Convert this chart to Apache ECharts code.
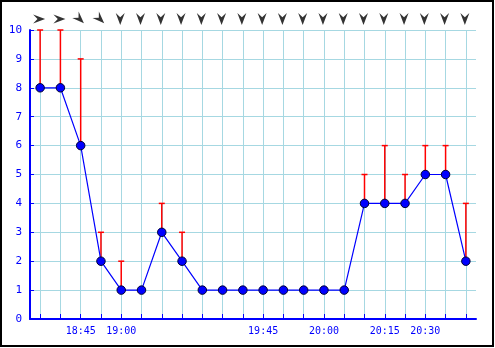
<!DOCTYPE html>
<html><head><meta charset="utf-8">
<script src="https://cdn.jsdelivr.net/npm/echarts@6/dist/echarts.min.js"></script>
<style>html,body{margin:0;padding:0;background:#fff}#c{width:495px;height:348px}</style>
</head><body><div id="c"></div>
<script>
const xLabels = ['', '', '18:45', '', '19:00', '', '', '', '', '', '', '19:45', '', '', '20:00', '', '', '20:15', '', '20:30', '', ''];
const speed = [8, 8, 6, 2, 1, 1, 3, 2, 1, 1, 1, 1, 1, 1, 1, 1, 4, 4, 4, 5, 5, 2];
const gust = [10, 10, 9, 3, 2, null, 4, 3, null, null, null, null, null, null, null, null, 5, 6, 5, 6, 6, 4];
// direction the arrow points to, compass degrees
const windDir = [90, 90, 135, 135, 180, 180, 180, 180, 180, 180, 180, 180, 180, 180, 180, 180, 180, 180, 180, 180, 180, 180];
const yTicks = [0, 10, 1];

const categories = speed.map((_, i) => String(i));
const BLUE = '#0000ff';
const GRIDC = '#a6d8e2';
const FONT = 'DejaVu Sans Mono';

const gustData = [];
gust.forEach((g, i) => { if (g != null) gustData.push([i, speed[i], g]); });

const chart = echarts.init(document.getElementById('c'), null, {renderer: 'canvas'});
chart.setOption({
  animation: false,
  backgroundColor: '#fff',
  grid: {left: 30, right: 19, top: 30, bottom: 29, containLabel: false},
  xAxis: {
    type: 'category', data: categories, boundaryGap: true,
    axisLine: {lineStyle: {color: BLUE, width: 2}},
    axisTick: {show: true, inside: true, length: 5, alignWithLabel: true, interval: 0, lineStyle: {color: BLUE, width: 1}},
    axisLabel: {interval: 0, color: BLUE, fontFamily: FONT, fontSize: 10, margin: 7, formatter: (v, i) => xLabels[i]},
    splitLine: {show: true, alignWithLabel: true, interval: 0, lineStyle: {color: GRIDC, width: 1}}
  },
  yAxis: {
    type: 'value', min: yTicks[0], max: yTicks[1], interval: yTicks[2],
    axisLine: {show: true, lineStyle: {color: BLUE, width: 2}},
    axisTick: {show: true, inside: true, length: 4, lineStyle: {color: BLUE, width: 1}},
    axisLabel: {color: BLUE, fontFamily: FONT, fontSize: 11, margin: 8},
    splitLine: {show: true, lineStyle: {color: GRIDC, width: 1}}
  },
  graphic: [{
    type: 'rect', shape: {x: 1, y: 1, width: 492, height: 345},
    style: {fill: 'none', stroke: '#000', lineWidth: 2}, z: 100
  }],
  series: [
    {
      type: 'custom', z: 2, data: gustData,
      renderItem: function (params, api) {
        const x = api.value(0);
        const p0 = api.coord([x, api.value(1)]);
        const p1 = api.coord([x, api.value(2)]);
        return {
          type: 'group', children: [
            {type: 'line', shape: {x1: p0[0], y1: p0[1], x2: p1[0], y2: p1[1]}, style: {stroke: '#ff0000', lineWidth: 1.5}},
            {type: 'line', shape: {x1: p1[0] - 3, y1: p1[1], x2: p1[0] + 3, y2: p1[1]}, style: {stroke: '#ff0000', lineWidth: 1.5}}
          ]
        };
      }
    },
    {
      type: 'line', z: 3, data: speed,
      lineStyle: {color: BLUE, width: 1.2},
      symbol: 'circle', symbolSize: 8.5, showAllSymbol: true,
      itemStyle: {color: BLUE, borderColor: '#000033', borderWidth: 1}
    },
    {
      type: 'scatter', z: 4, clip: false,
      data: windDir.map((d, i) => [i, yTicks[1], d]),
      symbol: 'path://M0,-6 L3.8,5 L0,1 L-3.8,5 Z',
      symbolSize: [9, 12],
      symbolOffset: [-1, -11],
      symbolRotate: function (v) { return -v[2]; },
      itemStyle: {color: '#000'}
    }
  ]
});
</script>
</body></html>
